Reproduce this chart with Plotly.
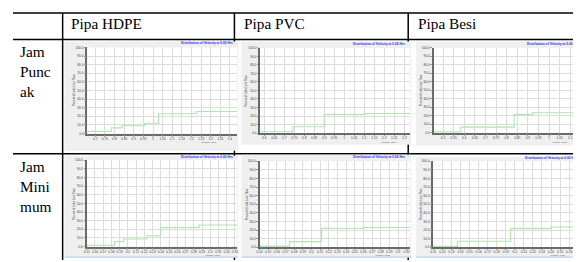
import plotly.graph_objects as go

# page body has an 8px margin, so the figure is drawn at (8, 8)
OFF = 8
W, H = 581 - OFF, 262 - OFF

# ---------------- data ----------------
col_headers = ["Pipa HDPE", "Pipa PVC", "Pipa Besi"]
row_labels = ["Jam<br>Punc<br>ak", "Jam<br>Mini<br>mum"]
chart_title = "Distribution of Velocity at 0.00 Hrs"
y_title = "Percent of Links Less Than"
x_title = "Velocity (m/s)"
y_tick_labels = ["0.0", "10.0", "20.0", "30.0", "40.0", "50.0",
                 "60.0", "70.0", "80.0", "90.0", "100.0"]

# velocity (m/s) vs percent of links less than (step curves)
hdpe_peak_v = [0.659, 0.783, 0.839, 0.956, 1.029, 1.226, 1.439]
hdpe_peak_p = [2.5, 6.5, 9.0, 12.0, 23.0, 25.5, 25.5]
pvc_peak_v = [0.58, 0.744, 0.90, 1.10, 1.33]
pvc_peak_p = [1.5, 7.3, 21.7, 23.0, 23.0]
besi_peak_v = [0.455, 0.584, 0.835, 0.922, 1.146]
besi_peak_p = [1.0, 6.6, 21.4, 23.5, 23.5]
hdpe_min_v = [0.15, 0.1836, 0.1949, 0.2229, 0.2397, 0.2865, 0.333]
hdpe_min_p = [1.5, 5.7, 8.7, 12.5, 22.0, 25.0, 25.0]
pvc_min_v = [0.14, 0.1749, 0.2117, 0.26, 0.314]
pvc_min_p = [1.2, 6.5, 21.7, 23.0, 23.0]
besi_min_v = [0.11, 0.1368, 0.1954, 0.24, 0.272]
besi_min_p = [1.0, 7.0, 21.6, 23.5, 23.5]

hdpe_peak_ticks = ["0.7", "0.75", "0.8", "0.85", "0.9", "0.95", "1", "1.05",
                   "1.1", "1.15", "1.2", "1.25", "1.3", "1.35", "1.4"]
pvc_peak_ticks = ["0.6", "0.65", "0.7", "0.75", "0.8", "0.85", "0.9", "0.95",
                  "1", "1.05", "1.1", "1.15", "1.2", "1.25", "1.3"]
besi_peak_ticks = ["0.5", "0.55", "0.6", "0.65", "0.7", "0.75", "0.8", "0.85",
                   "0.9", "0.95", "1", "1.05", "1.1"]
hdpe_min_ticks = ["0.15", "0.16", "0.17", "0.18", "0.19", "0.2", "0.21", "0.22",
                  "0.23", "0.24", "0.25", "0.26", "0.27", "0.28", "0.29", "0.3",
                  "0.31", "0.32", "0.33"]
pvc_min_ticks = ["0.14", "0.15", "0.16", "0.17", "0.18", "0.19", "0.2", "0.21",
                 "0.22", "0.23", "0.24", "0.25", "0.26", "0.27", "0.28", "0.29",
                 "0.3", "0.31"]
besi_min_ticks = ["0.11", "0.12", "0.13", "0.14", "0.15", "0.16", "0.17", "0.18",
                  "0.19", "0.2", "0.21", "0.22", "0.23", "0.24", "0.25", "0.26",
                  "0.27"]

series = [
    (hdpe_peak_v, hdpe_peak_p, hdpe_peak_ticks),
    (pvc_peak_v, pvc_peak_p, pvc_peak_ticks),
    (besi_peak_v, besi_peak_p, besi_peak_ticks),
    (hdpe_min_v, hdpe_min_p, hdpe_min_ticks),
    (pvc_min_v, pvc_min_p, pvc_min_ticks),
    (besi_min_v, besi_min_p, besi_min_ticks),
]

# ---------------- layout geometry (window pixels) ----------------
def fx(x):
    return (x - OFF) / W

def fy(y):
    return 1 - (y - OFF) / H

# image frames: x0, x1, y0, y1
frames = [(62, 237, 40, 151), (240, 411, 40, 145), (416, 581, 40, 146),
          (62, 237, 156, 259), (240, 411, 155, 259), (416, 581, 157, 259)]
# plot areas: x0, x1, y0(top), y1(bottom)
plots = [(85, 236, 46, 133.5), (259, 410, 46.5, 133), (433.5, 581, 46.5, 132.7),
         (84.3, 236, 160.7, 248.3), (258.3, 410, 161.7, 249), (433.3, 581, 161.7, 249)]
title_pos = [(176.7, 42), (350, 42.5), (526, 42.5), (176.7, 157.3), (350.7, 157), (524, 158)]
xt_pos = [(207, 143), (388, 143), (560, 143), (211, 257.3), (382, 257.3), (558, 257.3)]
yt_x = [72, 245, 420.7, 71.7, 245.7, 420.7]

fig = go.Figure()
shapes = []
annotations = []

# table lines (under the images)
line_style = dict(color="black", width=1.5)
for yy in (11, 38, 154):
    shapes.append(dict(type="line", xref="paper", yref="paper", layer="below",
                       x0=fx(10), x1=fx(581), y0=fy(yy), y1=fy(yy), line=line_style))
for xx in (60, 233, 408):
    shapes.append(dict(type="line", xref="paper", yref="paper", layer="below",
                       x0=fx(xx), x1=fx(xx), y0=fy(11), y1=fy(262), line=line_style))

for i, (fr, pl) in enumerate(zip(frames, plots)):
    shapes.append(dict(type="rect", xref="paper", yref="paper", layer="below",
                       x0=fx(fr[0]), x1=fx(fr[1]), y0=fy(fr[3]), y1=fy(fr[2]),
                       fillcolor="#efefef", line=dict(width=0)))
    if i >= 3:
        shapes.append(dict(type="line", xref="paper", yref="paper", layer="below",
                           x0=fx(fr[0]), x1=fx(fr[1]), y0=fy(fr[3]), y1=fy(fr[3]),
                           line=dict(color="#b9d3ec", width=1.2)))
    shapes.append(dict(type="rect", xref="paper", yref="paper", layer="below",
                       x0=fx(pl[0]), x1=fx(pl[1]), y0=fy(pl[3]), y1=fy(pl[2]),
                       fillcolor="white", line=dict(width=0)))

tick_font = dict(family="Liberation Sans", size=3.2, color="#444")
for i, (v, p, ticks) in enumerate(series):
    n = "" if i == 0 else str(i + 1)
    pl = plots[i]
    fig.add_trace(go.Scatter(x=v, y=p, mode="lines", line_shape="hv",
                             line=dict(color="#b3e2b3", width=1.1),
                             xaxis="x" + n, yaxis="y" + n, showlegend=False,
                             hoverinfo="skip"))
    rng = [v[0], v[-1]]
    fig.layout["xaxis" + n] = dict(
        domain=[fx(pl[0]), fx(pl[1])], anchor="y" + n, range=rng,
        tickvals=[float(t) for t in ticks], ticktext=ticks, tickangle=0,
        tickfont=tick_font, showgrid=True, gridcolor="#dcdcdc", gridwidth=1,
        showline=True, linecolor="#6a6a6a", linewidth=1.5, zeroline=False,
        ticks="outside", ticklen=1.5, tickcolor="#999", ticklabelstandoff=-1,
        fixedrange=True)
    fig.layout["yaxis" + n] = dict(
        domain=[fy(pl[3]), fy(pl[2])], anchor="x" + n, range=[0, 100],
        tickvals=[float(t) for t in y_tick_labels], ticktext=y_tick_labels,
        tickfont=tick_font, showgrid=True, gridcolor="#dcdcdc", gridwidth=1,
        showline=True, linecolor="#6a6a6a", linewidth=1.5, zeroline=False,
        ticks="outside", ticklen=1.5, tickcolor="#999", fixedrange=True)
    tx, ty = title_pos[i]
    annotations.append(dict(xref="paper", yref="paper", x=fx(tx), y=fy(ty),
                            xanchor="left", yanchor="middle", showarrow=False,
                            text="<b>" + chart_title + "</b>",
                            font=dict(family="Liberation Sans", size=3.2, color="#2a2aff")))
    xx, xy = xt_pos[i]
    annotations.append(dict(xref="paper", yref="paper", x=fx(xx), y=fy(xy),
                            xanchor="center", yanchor="middle", showarrow=False,
                            text=x_title,
                            font=dict(family="Liberation Sans", size=2.5, color="#444")))
    annotations.append(dict(xref="paper", yref="paper", x=fx(yt_x[i]),
                            y=fy((pl[2] + pl[3]) / 2), xanchor="center",
                            yanchor="middle", showarrow=False, textangle=-90,
                            text=y_title,
                            font=dict(family="Liberation Sans", size=2.6, color="#444")))

# table texts
serif = "Liberation Serif, Times New Roman, serif"
for txt, x in zip(col_headers, (66.7, 240.7, 416)):
    annotations.append(dict(xref="paper", yref="paper", x=fx(x), y=fy(22),
                            xanchor="left", yanchor="middle", showarrow=False,
                            text=txt, font=dict(family=serif, size=15.3,
                                                color="black")))
for txt, y in zip(row_labels, (39, 156)):
    annotations.append(dict(xref="paper", yref="paper", x=fx(15.5), y=fy(y),
                            xanchor="left", yanchor="top", align="left",
                            showarrow=False, text=txt,
                            font=dict(family=serif, size=15.3, color="black")))

fig.update_layout(width=W, height=H, margin=dict(l=0, r=0, t=0, b=0),
                  paper_bgcolor="white", plot_bgcolor="rgba(0,0,0,0)",
                  shapes=shapes, annotations=annotations, showlegend=False)

fig.write_html("out.html")
